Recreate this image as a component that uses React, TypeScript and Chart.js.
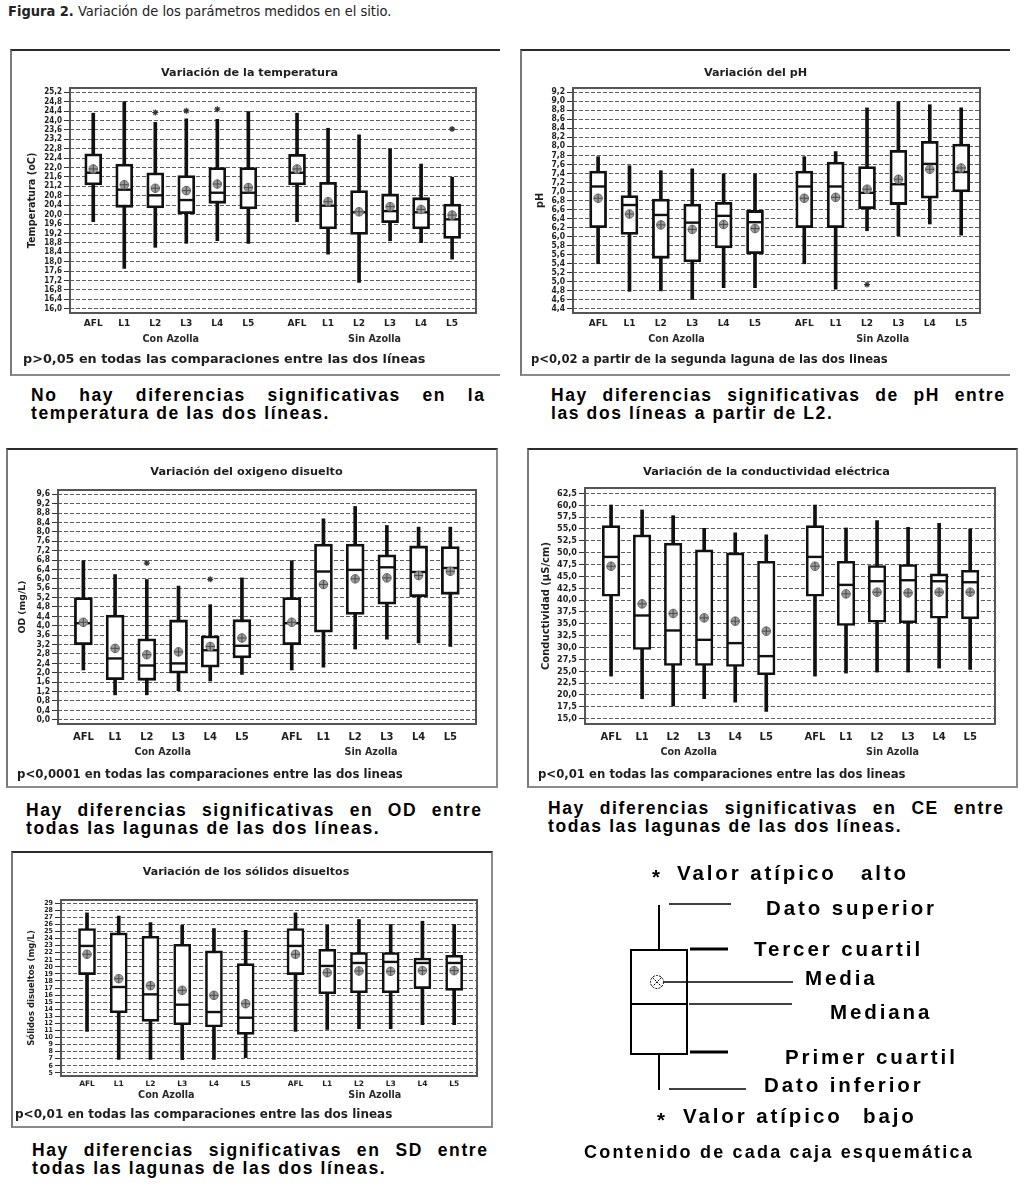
import React, { useEffect, useRef } from "react";
import { Chart, registerables } from "chart.js";

Chart.register(...registerables);

// ---------- categories ----------
const CATEGORIES = ["AFL", "L1", "L2", "L3", "L4", "L5"];
const GROUPS = ["Con Azolla", "Sin Azolla"];
const GROUP_OFFSET = 6.57;
const X_POS = GROUPS.flatMap((_, g) => CATEGORIES.map((_, i) => i + g * GROUP_OFFSET));
const X_LABELS = GROUPS.flatMap(() => CATEGORIES);
const GROUP_POS = GROUPS.map((_, g) => g * GROUP_OFFSET + (CATEGORIES.length - 1) / 2);

// ---------- Temperatura ----------
const TEMP_MAX = [24.31, 24.8, 23.92, 24.07, 24.05, 24.38, 24.31, 23.67, 23.39, 22.79, 22.15, 21.59];
const TEMP_Q3 = [22.58, 22.15, 21.78, 21.66, 22.0, 22.0, 22.56, 21.37, 21.02, 20.88, 20.72, 20.45];
const TEMP_MEDIAN = [21.78, 21.06, 20.82, 20.62, 20.93, 20.93, 21.78, 20.38, 20.1, 20.15, 20.1, 19.8];
const TEMP_MEAN = [21.94, 21.27, 21.12, 21.02, 21.3, 21.15, 21.94, 20.55, 20.12, 20.34, 20.22, 19.98];
const TEMP_Q1 = [21.26, 20.31, 20.28, 20.04, 20.48, 20.24, 21.26, 19.39, 19.16, 19.66, 19.39, 18.99];
const TEMP_MIN = [19.7, 17.71, 18.61, 18.78, 18.89, 18.78, 19.7, 18.32, 17.12, 18.89, 18.81, 18.11];
const TEMP_OUTLIERS = [[2, 24.34], [3, 24.41], [4, 24.48], [11, 23.64]];
const TEMP_TICKS = { min: 16.0, max: 25.2, step: 0.4, decimals: 1 };

// ---------- pH ----------
const PH_MAX = [7.77, 7.57, 7.46, 7.5, 7.39, 7.39, 7.77, 7.88, 8.85, 8.99, 8.92, 8.85];
const PH_Q3 = [7.45, 6.91, 6.83, 6.72, 6.76, 6.58, 7.45, 7.65, 7.55, 7.91, 8.11, 8.05];
const PH_MEDIAN = [7.11, 6.7, 6.48, 6.31, 6.46, 6.32, 7.11, 7.11, 6.97, 7.16, 7.61, 7.43];
const PH_MEAN = [6.85, 6.5, 6.26, 6.16, 6.27, 6.18, 6.85, 6.87, 7.05, 7.27, 7.49, 7.52];
const PH_Q1 = [6.2, 6.05, 5.52, 5.44, 5.75, 5.62, 6.2, 6.2, 6.62, 6.71, 6.85, 6.99];
const PH_MIN = [5.4, 4.79, 4.8, 4.61, 4.87, 4.87, 5.4, 4.84, 6.13, 6.02, 6.28, 6.03];
const PH_OUTLIERS = [[8, 4.94]];
const PH_TICKS = { min: 4.4, max: 9.2, step: 0.2, decimals: 1 };

// ---------- Oxígeno disuelto ----------
const OD_MAX = [6.77, 6.18, 5.97, 5.69, 4.9, 6.04, 6.77, 8.55, 9.08, 8.27, 8.2, 8.2];
const OD_Q3 = [5.2, 4.46, 3.45, 4.25, 3.57, 4.26, 5.2, 7.48, 7.48, 7.02, 7.4, 7.37];
const OD_MEDIAN = [4.11, 2.61, 2.31, 2.4, 2.96, 3.15, 4.11, 6.31, 6.38, 6.49, 6.29, 6.46];
const OD_MEAN = [4.15, 3.04, 2.77, 2.89, 3.12, 3.48, 4.15, 5.76, 6.0, 6.04, 6.14, 6.32];
const OD_Q1 = [3.19, 1.71, 1.68, 1.98, 2.24, 2.63, 3.19, 3.73, 4.48, 4.92, 5.24, 5.34];
const OD_MIN = [2.12, 1.06, 1.06, 1.23, 1.65, 1.93, 2.12, 2.24, 3.01, 3.43, 3.27, 3.12];
const OD_OUTLIERS = [[2, 6.67], [4, 5.98]];
const OD_TICKS = { min: 0.0, max: 9.6, step: 0.4, decimals: 1 };

// ---------- Conductividad ----------
const CE_MAX = [60.04, 58.99, 57.8, 55.13, 54.15, 53.73, 60.04, 55.2, 56.75, 55.34, 56.18, 54.99];
const CE_Q3 = [55.69, 53.73, 51.97, 50.57, 49.94, 48.18, 55.69, 48.18, 47.27, 47.48, 45.52, 46.29];
const CE_MEDIAN = [49.1, 36.75, 33.59, 31.62, 30.92, 28.18, 49.1, 43.2, 43.97, 44.18, 43.97, 43.76];
const CE_MEAN = [47.13, 39.2, 37.17, 36.25, 35.55, 33.45, 47.13, 41.31, 41.66, 41.52, 41.66, 41.66];
const CE_Q1 = [40.82, 29.59, 26.22, 26.22, 26.01, 24.25, 40.82, 34.64, 35.34, 35.2, 36.18, 36.04];
const CE_MIN = [23.97, 19.2, 17.66, 19.2, 18.5, 16.54, 23.97, 24.61, 24.82, 24.82, 25.66, 25.38];
const CE_OUTLIERS: number[][] = [];
const CE_TICKS = { min: 15.0, max: 62.5, step: 2.5, decimals: 1 };

// ---------- Sólidos disueltos ----------
const SD_MAX = [27.63, 27.16, 26.26, 25.88, 25.41, 25.17, 27.63, 25.88, 26.69, 25.98, 26.45, 25.98];
const SD_Q3 = [25.41, 24.8, 24.32, 23.19, 22.25, 20.45, 25.41, 22.48, 22.01, 22.01, 21.25, 21.63];
const SD_MEDIAN = [22.95, 17.14, 16.1, 14.64, 13.6, 12.8, 22.95, 20.12, 20.54, 20.69, 20.54, 20.54];
const SD_MEAN = [21.77, 18.32, 17.33, 16.67, 15.96, 14.78, 21.77, 19.17, 19.41, 19.36, 19.46, 19.46];
const SD_Q1 = [18.89, 13.51, 12.28, 11.81, 11.48, 10.44, 18.89, 16.2, 16.34, 16.34, 16.91, 16.67];
const SD_MIN = [10.86, 6.89, 6.89, 6.85, 6.89, 7.13, 10.86, 11.14, 11.24, 11.24, 11.81, 11.81];
const SD_OUTLIERS: number[][] = [];
const SD_TICKS = { min: 5, max: 29, step: 1, decimals: 0 };

// ---------- fonts / colours ----------
const SANS = "'DejaVu Sans', Verdana, sans-serif";
const NARROW = "'Liberation Sans Narrow', 'DejaVu Sans Condensed', 'Liberation Sans', sans-serif";
const ARIAL = "'Liberation Sans', Arial, sans-serif";
const INK = "#1e1e1e";

const framePlugin = {
  id: "plotFrame",
  beforeDatasetsDraw(chart: any) {
    const { ctx, chartArea: a } = chart;
    ctx.save();
    ctx.strokeStyle = "#555";
    ctx.lineWidth = 2;
    ctx.strokeRect(a.left, a.top, a.right - a.left, a.bottom - a.top);
    ctx.restore();
  },
};

const PANELS: any[] = [
  {
    key: "temp",
    title: "Variación de la temperatura",
    yTitle: "Temperatura (oC)",
    pText: "p>0,05 en todas las comparaciones entre las dos líneas",
    stats: { min: TEMP_MIN, q1: TEMP_Q1, median: TEMP_MEDIAN, mean: TEMP_MEAN, q3: TEMP_Q3, max: TEMP_MAX, outliers: TEMP_OUTLIERS },
    ticks: TEMP_TICKS,
    left: 10, top: 49, width: 490, height: 327, rightBorder: false,
    plot: { l: 58, t: 37, r: 464, b: 262 },
    titleY: 22, xLabelY: 273, groupY: 288, pY: 309, pLeft: 11, yTitleX: 20,
    fonts: { title: 11.2, p: 12.8, yTitle: 9.7, yTick: 8, xTick: 9, group: 9.6 },
    boxWidth: 17, boxBorder: 2.8, xMin: -0.75, xMax: 12.34,
  },
  {
    key: "ph",
    title: "Variación del pH",
    yTitle: "pH",
    pText: "p<0,02 a partir de la segunda laguna de las dos lineas",
    stats: { min: PH_MIN, q1: PH_Q1, median: PH_MEDIAN, mean: PH_MEAN, q3: PH_Q3, max: PH_MAX, outliers: PH_OUTLIERS },
    ticks: PH_TICKS,
    left: 520, top: 49, width: 490, height: 327, rightBorder: false,
    plot: { l: 51, t: 37, r: 458, b: 262 },
    titleY: 22, xLabelY: 273, groupY: 288, pY: 309, pLeft: 9, yTitleX: 18,
    fonts: { title: 11.2, p: 11.6, yTitle: 9.7, yTick: 8.5, xTick: 9, group: 9.6 },
    boxWidth: 17, boxBorder: 2.8, xMin: -0.8, xMax: 12.17,
  },
  {
    key: "od",
    title: "Variación del oxigeno disuelto",
    yTitle: "OD (mg/L)",
    pText: "p<0,0001 en todas las comparaciones entre las dos lineas",
    stats: { min: OD_MIN, q1: OD_Q1, median: OD_MEDIAN, mean: OD_MEAN, q3: OD_Q3, max: OD_MAX, outliers: OD_OUTLIERS },
    ticks: OD_TICKS,
    left: 6, top: 448, width: 492, height: 340, rightBorder: true,
    plot: { l: 50, t: 40, r: 468, b: 274 },
    titleY: 22, xLabelY: 287, groupY: 302, pY: 325, pLeft: 9, yTitleX: 15,
    fonts: { title: 11.3, p: 11.75, yTitle: 9.3, yTick: 8.5, xTick: 10, group: 9.6 },
    boxWidth: 18, boxBorder: 2.8, xMin: -0.8, xMax: 12.38,
  },
  {
    key: "ce",
    title: "Variación de la conductividad eléctrica",
    yTitle: "Conductividad (µS/cm)",
    pText: "p<0,01 en todas las comparaciones entre las dos lineas",
    stats: { min: CE_MIN, q1: CE_Q1, median: CE_MEDIAN, mean: CE_MEAN, q3: CE_Q3, max: CE_MAX, outliers: CE_OUTLIERS },
    ticks: CE_TICKS,
    left: 527, top: 448, width: 491, height: 340, rightBorder: true,
    plot: { l: 56, t: 38, r: 466, b: 274 },
    titleY: 22, xLabelY: 287, groupY: 302, pY: 325, pLeft: 9, yTitleX: 17,
    fonts: { title: 11.3, p: 11.7, yTitle: 10, yTick: 9, xTick: 10, group: 9.6 },
    boxWidth: 17.5, boxBorder: 2.6, xMin: -0.84, xMax: 12.37,
  },
  {
    key: "sd",
    title: "Variación de los sólidos disueltos",
    yTitle: "Sólidos disueltos (mg/L)",
    pText: "p<0,01 en todas las comparaciones entre las dos lineas",
    stats: { min: SD_MIN, q1: SD_Q1, median: SD_MEDIAN, mean: SD_MEAN, q3: SD_Q3, max: SD_MAX, outliers: SD_OUTLIERS },
    ticks: SD_TICKS,
    left: 11, top: 851, width: 482, height: 277, rightBorder: true,
    plot: { l: 48, t: 47, r: 464, b: 223 },
    titleY: 19, xLabelY: 231, groupY: 242, pY: 262, pLeft: 2, yTitleX: 19,
    fonts: { title: 11, p: 12, yTitle: 8.5, yTick: 7, xTick: 7.5, group: 9.6 },
    boxWidth: 17, boxBorder: 2.6, xMin: -0.82, xMax: 12.29,
  },
];

function buildConfig(s: any, W: number, H: number): any {
  const { l, t, r, b } = s.plot;
  const f = s.fonts;
  const pad = s.ticks.step * 0.45;
  const xH = (s.xLabelY + s.groupY) / 2 - b;
  const xgTop = b + xH;
  const xgH = (s.groupY + s.pY) / 2 - xgTop;
  const subTop = xgTop + xgH;
  const subPadTop = Math.max(0, s.pY - subTop - f.p / 2);
  const subPadBottom = Math.max(0, H - (subTop + subPadTop + f.p));
  const titlePadTop = s.titleY - f.title / 2;
  const titlePadBottom = t - (s.titleY + f.title / 2);
  const yTitleLH = f.yTitle * 1.2;
  const yTitlePad = Math.max(0, s.yTitleX - s.pLeft - yTitleLH / 2);
  const xTickPad = Math.max(0, s.xLabelY - b - f.xTick / 2);
  const xgTickPad = Math.max(0, s.groupY - xgTop - f.group / 2);
  const st = s.stats;
  const nTicks = Math.round((s.ticks.max - s.ticks.min) / s.ticks.step);
  const yTickValues = Array.from({ length: nTicks + 1 }, (_, k) => s.ticks.min + k * s.ticks.step);
  const pt = (arr: number[]) => arr.map((v, i) => ({ x: X_POS[i], y: v }));

  return {
    type: "bar",
    data: {
      datasets: [
        {
          type: "bar",
          label: "whisker",
          data: st.min.map((v: number, i: number) => ({ x: X_POS[i], y: [v, st.max[i]] })),
          backgroundColor: "#111",
          borderWidth: 0,
          barThickness: 3,
          grouped: false,
          order: 5,
        },
        {
          type: "bar",
          label: "box",
          data: st.q1.map((v: number, i: number) => ({ x: X_POS[i], y: [v, st.q3[i]] })),
          backgroundColor: "#fff",
          borderColor: "#111",
          borderWidth: s.boxBorder,
          borderSkipped: false,
          barThickness: s.boxWidth,
          grouped: false,
          order: 4,
        },
        {
          type: "scatter",
          label: "median",
          data: pt(st.median),
          pointStyle: "line",
          pointRadius: s.boxWidth / 2 - 0.5,
          pointBorderColor: "#111",
          pointBorderWidth: 2.4,
          order: 3,
        },
        {
          type: "scatter",
          label: "mean",
          data: pt(st.mean),
          pointStyle: "circle",
          pointRadius: 4.3,
          pointBackgroundColor: "#9c9c9c",
          pointBorderColor: "#6e6e6e",
          pointBorderWidth: 1,
          order: 2,
        },
        {
          type: "scatter",
          label: "mean-cross",
          data: pt(st.mean),
          pointStyle: "cross",
          pointRadius: 4.3,
          pointBorderColor: "#4a4a4a",
          pointBorderWidth: 1,
          order: 1,
        },
        {
          type: "scatter",
          label: "outliers",
          data: st.outliers.map(([i, v]: number[]) => ({ x: X_POS[i], y: v })),
          pointStyle: "star",
          pointRadius: 3,
          pointBorderColor: "#333",
          pointBorderWidth: 1.2,
          order: 0,
        },
      ],
    },
    options: {
      responsive: false,
      animation: false,
      devicePixelRatio: 1,
      events: [],
      layout: { padding: { left: s.pLeft, right: W - r, top: 0, bottom: 0 } },
      plugins: {
        legend: { display: false },
        tooltip: { enabled: false },
        title: {
          display: true,
          text: s.title,
          color: INK,
          font: { family: SANS, size: f.title, weight: "bold", lineHeight: 1 },
          padding: { top: titlePadTop, bottom: titlePadBottom },
        },
        subtitle: {
          display: true,
          position: "bottom",
          align: "start",
          text: s.pText,
          color: INK,
          font: { family: SANS, size: f.p, weight: "bold", lineHeight: 1 },
          padding: { top: subPadTop, bottom: subPadBottom },
        },
      },
      scales: {
        x: {
          type: "linear",
          position: "bottom",
          min: s.xMin,
          max: s.xMax,
          offset: false,
          bounds: "data",
          weight: 0,
          grid: { display: false, drawTicks: false },
          border: { display: false },
          afterBuildTicks: (sc: any) => {
            sc.ticks = X_POS.map((v) => ({ value: v }));
          },
          afterFit: (sc: any) => {
            sc.height = xH;
          },
          ticks: {
            autoSkip: false,
            maxRotation: 0,
            minRotation: 0,
            padding: xTickPad,
            color: INK,
            font: { family: SANS, size: f.xTick, weight: "bold", lineHeight: 1 },
            callback: (_v: any, i: number) => X_LABELS[i],
          },
        },
        xg: {
          type: "linear",
          position: "bottom",
          min: s.xMin,
          max: s.xMax,
          offset: false,
          bounds: "data",
          weight: 1,
          grid: { display: false, drawTicks: false },
          border: { display: false },
          afterBuildTicks: (sc: any) => {
            sc.ticks = GROUP_POS.map((v) => ({ value: v }));
          },
          afterFit: (sc: any) => {
            sc.height = xgH;
          },
          ticks: {
            autoSkip: false,
            maxRotation: 0,
            minRotation: 0,
            padding: xgTickPad,
            color: "#2a2a2a",
            font: { family: SANS, size: f.group, weight: "bold", lineHeight: 1 },
            callback: (_v: any, i: number) => GROUPS[i],
          },
        },
        y: {
          type: "linear",
          position: "left",
          min: s.ticks.min - pad,
          max: s.ticks.max + pad,
          bounds: "data",
          afterBuildTicks: (sc: any) => {
            sc.ticks = yTickValues.map((v) => ({ value: v }));
          },
          afterFit: (sc: any) => {
            sc.width = l - s.pLeft;
          },
          grid: { color: "#5c5c5c", lineWidth: 1, tickLength: 6, tickColor: "#333", tickWidth: 1 },
          border: { display: false, dash: [4, 2] },
          ticks: {
            autoSkip: false,
            padding: 2,
            color: INK,
            font: { family: NARROW, size: f.yTick, weight: "bold", lineHeight: 1 },
            callback: (v: any) => Number(v).toFixed(s.ticks.decimals).replace(".", ","),
          },
          title: {
            display: true,
            text: s.yTitle,
            color: INK,
            font: { family: SANS, size: f.yTitle, weight: "bold", lineHeight: 1.2 },
            padding: { top: yTitlePad, bottom: 0 },
          },
        },
      },
    },
    plugins: [framePlugin],
  };
}

function BoxPanel({ spec }: { spec: any }) {
  const ref = useRef<HTMLCanvasElement | null>(null);
  const W = spec.width - 2 - (spec.rightBorder ? 2 : 0);
  const H = spec.height - 4;
  useEffect(() => {
    if (!ref.current) return;
    const chart = new Chart(ref.current, buildConfig(spec, W, H));
    return () => chart.destroy();
  }, [spec, W, H]);
  return (
    <div
      style={{
        position: "absolute",
        left: spec.left,
        top: spec.top,
        width: spec.width,
        height: spec.height,
        boxSizing: "border-box",
        borderTop: "2px solid #2b2b2b",
        borderLeft: "2px solid #7a7a7a",
        borderBottom: "2px solid #8a8a8a",
        borderRight: spec.rightBorder ? "2px solid #8a8a8a" : "none",
        background: "#fff",
      }}
    >
      <canvas ref={ref} width={W} height={H} style={{ display: "block", width: W, height: H }} />
    </div>
  );
}

function Caption({ left, top, width, lines }: { left: number; top: number; width: number; lines: string[] }) {
  return (
    <div
      style={{
        position: "absolute",
        left,
        top,
        width,
        font: `bold 17.5px ${ARIAL}`,
        letterSpacing: "1.6px",
        lineHeight: "18px",
        color: "#000",
      }}
    >
      <div style={{ textAlign: "justify", textAlignLast: "justify", marginRight: -1.6 } as any}>{lines[0]}</div>
      <div style={{ whiteSpace: "pre" }}>{lines[1]}</div>
    </div>
  );
}

function LegendText({ x, cy, text, size = 20.5, ls = 2.9 }: { x: number; cy: number; text: string; size?: number; ls?: number }) {
  return (
    <div
      style={{
        position: "absolute",
        left: x,
        top: cy - 12,
        font: `bold ${size}px ${ARIAL}`,
        letterSpacing: `${ls}px`,
        lineHeight: "24px",
        color: "#000",
        whiteSpace: "pre",
      }}
    >
      {text}
    </div>
  );
}

function LegendDiagram() {
  return (
    <>
      <svg
        width={1035}
        height={1188}
        style={{ position: "absolute", left: 0, top: 0, pointerEvents: "none" }}
      >
        <g stroke="#000" fill="none">
          <line x1={659} y1={905} x2={659} y2={950} strokeWidth={2} />
          <line x1={669} y1={904} x2={731} y2={904} strokeWidth={1.5} />
          <rect x={631} y={950} width={56} height={104} strokeWidth={2} />
          <line x1={690} y1={949} x2={728} y2={949} strokeWidth={3} />
          <circle cx={657} cy={982} r={6.5} strokeWidth={1} strokeDasharray="2 1.2" />
          <line x1={652.5} y1={977.5} x2={661.5} y2={986.5} strokeWidth={1} strokeDasharray="2 1" />
          <line x1={661.5} y1={977.5} x2={652.5} y2={986.5} strokeWidth={1} strokeDasharray="2 1" />
          <line x1={664} y1={982} x2={793} y2={982} strokeWidth={1.5} />
          <line x1={631} y1={1004} x2={687} y2={1004} strokeWidth={2} />
          <line x1={689} y1={1004} x2={792} y2={1004} strokeWidth={1.5} />
          <line x1={690} y1={1052} x2={728} y2={1052} strokeWidth={3} />
          <line x1={659} y1={1054} x2={659} y2={1090} strokeWidth={2} />
          <line x1={669} y1={1089} x2={746} y2={1089} strokeWidth={1.5} />
        </g>
      </svg>
      <LegendText x={652} cy={877} text="*" />
      <LegendText x={677} cy={873} text="Valor atípico" />
      <LegendText x={861} cy={873} text="alto" />
      <LegendText x={766} cy={908} text="Dato superior" />
      <LegendText x={754} cy={949} text="Tercer cuartil" />
      <LegendText x={805} cy={978} text="Media" />
      <LegendText x={830} cy={1012} text="Mediana" />
      <LegendText x={785} cy={1057} text="Primer cuartil" />
      <LegendText x={764} cy={1085} text="Dato inferior" />
      <LegendText x={657} cy={1120} text="*" />
      <LegendText x={683} cy={1116} text="Valor atípico" />
      <LegendText x={863} cy={1116} text="bajo" />
      <LegendText x={584} cy={1152} text="Contenido de cada caja esquemática" size={18} ls={2.2} />
    </>
  );
}

export default function App() {
  return (
    <div
      style={{
        position: "absolute",
        left: 0,
        top: 0,
        width: 1035,
        height: 1188,
        background: "#fff",
        overflow: "hidden",
      }}
    >
      <div
        style={{
          position: "absolute",
          left: 8,
          top: 3,
          font: `14.5px ${NARROW}`,
          lineHeight: "17px",
          color: "#222",
          whiteSpace: "nowrap",
        }}
      >
        <b>Figura 2.</b> Variación de los parámetros medidos en el sitio.
      </div>
      {PANELS.map((p) => (
        <BoxPanel key={p.key} spec={p} />
      ))}
      <Caption left={31} top={386} width={453} lines={["No hay diferencias significativas en la", "temperatura de las dos líneas."]} />
      <Caption left={551} top={386} width={453} lines={["Hay diferencias significativas de pH entre", "las dos líneas a partir de L2."]} />
      <Caption left={26} top={801} width={455} lines={["Hay diferencias significativas en OD entre", "todas las lagunas de las dos líneas."]} />
      <Caption left={548} top={799} width={455} lines={["Hay diferencias significativas en CE entre", "todas las lagunas de las dos líneas."]} />
      <Caption left={32} top={1141} width={455} lines={["Hay diferencias significativas en SD  entre", "todas las lagunas de las dos líneas."]} />
      <LegendDiagram />
    </div>
  );
}
